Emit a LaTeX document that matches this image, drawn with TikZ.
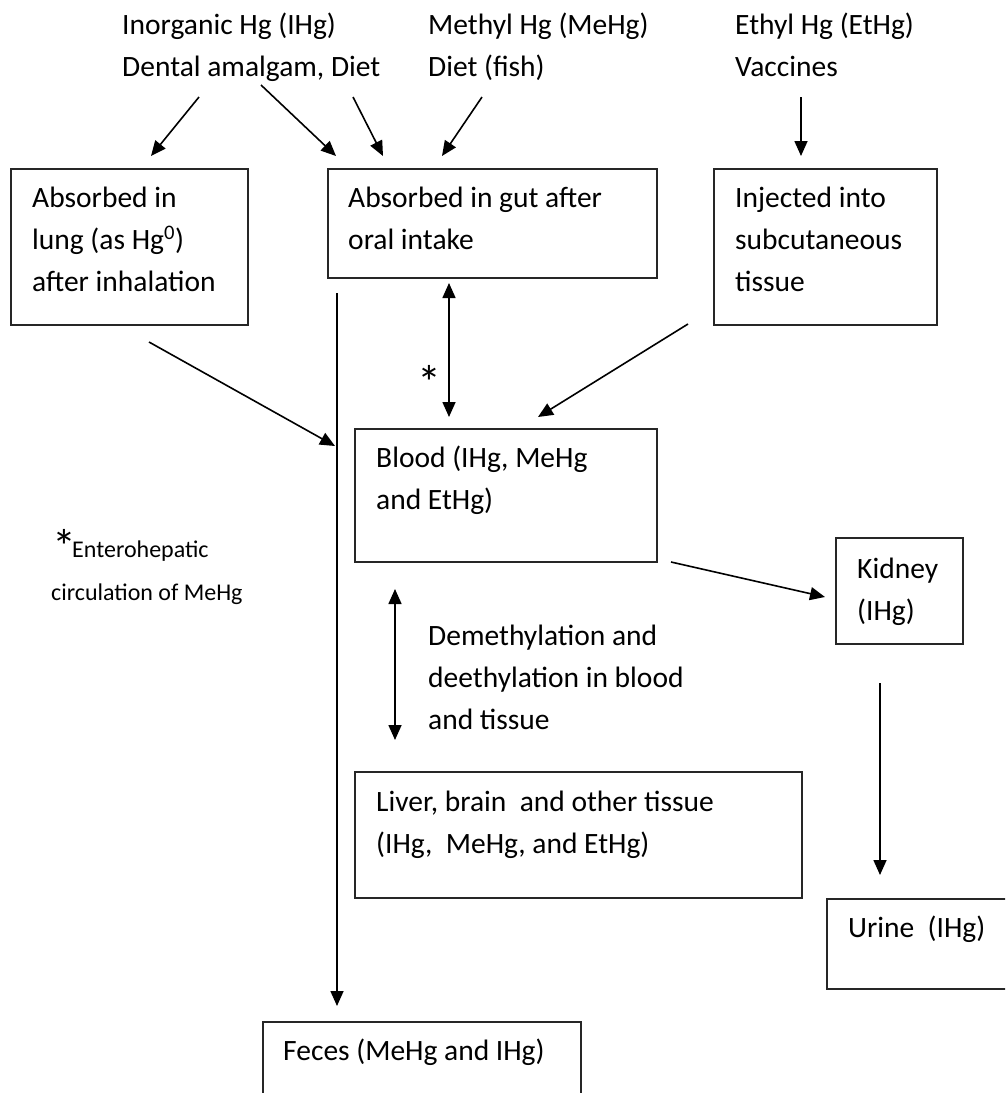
\documentclass[tikz,border=0pt]{standalone}
\usepackage{fontspec}
\setmainfont{Carlito}
\usetikzlibrary{arrows.meta}
\begin{document}
\begin{tikzpicture}[x=1pt,y=-1pt,
  box/.style={draw=black!85,line width=1.6pt,rectangle,inner sep=0pt,anchor=north west},
  txt/.style={anchor=base west,inner sep=0pt,align=left,font=\fontsize{29.5}{42}\selectfont},
  small/.style={anchor=base west,inner sep=0pt,align=left,font=\fontsize{24}{42}\selectfont},
  bigstar/.style={anchor=base west,inner sep=0pt,font=\fontsize{48}{48}\selectfont},
  arr/.style={line width=1.6pt,-{Triangle[length=15pt,width=13pt]}},
  darr/.style={line width=1.6pt,{Triangle[length=15pt,width=13pt]}-{Triangle[length=15pt,width=13pt]}},
  ln/.style={line width=1.6pt}]
\useasboundingbox (0,0) rectangle (1005,1093);
\begin{scope}
\clip (0,0) rectangle (1005,1093);
% source texts (anchor at baseline of last line)
\node[txt] (srcI) at (122,76) {Inorganic Hg (IHg)\\Dental amalgam, Diet};
\node[txt] (srcM) at (428,76) {Methyl Hg (MeHg)\\Diet (fish)};
\node[txt] (srcE) at (735,76) {Ethyl Hg (EtHg)\\Vaccines};
% boxes
\node[box,minimum width=237pt,minimum height=156pt] (lung) at (10,168) {};
\node[txt] (lungT) at (32,291) {Absorbed in\\lung (as Hg\textsuperscript{0})\\after inhalation};
\node[box,minimum width=329pt,minimum height=109pt] (gut) at (327,168) {};
\node[txt] (gutT) at (348,249) {Absorbed in gut after\\oral intake};
\node[box,minimum width=223pt,minimum height=156pt] (inj) at (713,168) {};
\node[txt] (injT) at (735,291) {Injected into\\subcutaneous\\tissue};
\node[box,minimum width=302pt,minimum height=133pt] (blood) at (354,428) {};
\node[txt] (bloodT) at (376,509) {Blood (IHg, MeHg\\and EtHg)};
\node[box,minimum width=127pt,minimum height=106pt] (kid) at (835,537) {};
\node[txt] (kidT) at (857,620) {Kidney\\(IHg)};
\node[box,minimum width=447pt,minimum height=126pt] (liver) at (354,771) {};
\node[txt] (liverT) at (376,853) {Liver, brain\ \ and other tissue\\(IHg,\ \ MeHg, and EtHg)};
\node[box,minimum width=200pt,minimum height=90pt] (urine) at (826,898) {};
\node[txt] (urineT) at (848,937) {Urine\ \ (IHg)};
\node[box,minimum width=318pt,minimum height=100pt] (feces) at (262,1021) {};
\node[txt] (fecesT) at (283,1060) {Feces (MeHg and IHg)};
\node[txt] (demT) at (428,729) {Demethylation and\\deethylation in blood\\and tissue};
\node[bigstar] (star) at (417,399) {*};
\node[bigstar] (fnstar) at (52,563) {*};
\node[small] (fn1) at (72,557) {Enterohepatic};
\node[small] (fn2) at (51,600) {circulation of MeHg};
% connector end points
\coordinate (a1s) at (199,97);  \coordinate (a1e) at (151,156);
\coordinate (a2s) at (261,85);  \coordinate (a2e) at (336,156);
\coordinate (a3s) at (353,97);  \coordinate (a3e) at (383,156);
\coordinate (a4s) at (482,97);  \coordinate (a4e) at (442,156);
\coordinate (a5s) at (801,97);  \coordinate (a5e) at (801,156);
\coordinate (vs) at (337,293);  \coordinate (ve) at (337,1006);
\coordinate (gbs) at (449,283); \coordinate (gbe) at (449,417);
\coordinate (lbs) at (149,342); \coordinate (lbe) at (335,446);
\coordinate (ibs) at (688,324); \coordinate (ibe) at (538,417);
\coordinate (bks) at (671,562); \coordinate (bke) at (825,597);
\coordinate (dms) at (395,589); \coordinate (dme) at (395,740);
\coordinate (kus) at (880,683); \coordinate (kue) at (880,875);
% connectors
\draw[arr] (a1s) -- (a1e);
\draw[arr] (a2s) -- (a2e);
\draw[arr] (a3s) -- (a3e);
\draw[arr] (a4s) -- (a4e);
\draw[arr] (a5s) -- (a5e);
\draw[arr] (vs) -- (ve);
\draw[darr] (gbs) -- (gbe);
\draw[arr] (lbs) -- (lbe);
\draw[arr] (ibs) -- (ibe);
\draw[arr] (bks) -- (bke);
\draw[darr] (dms) -- (dme);
\draw[arr] (kus) -- (kue);
\end{scope}
\end{tikzpicture}
\end{document}
